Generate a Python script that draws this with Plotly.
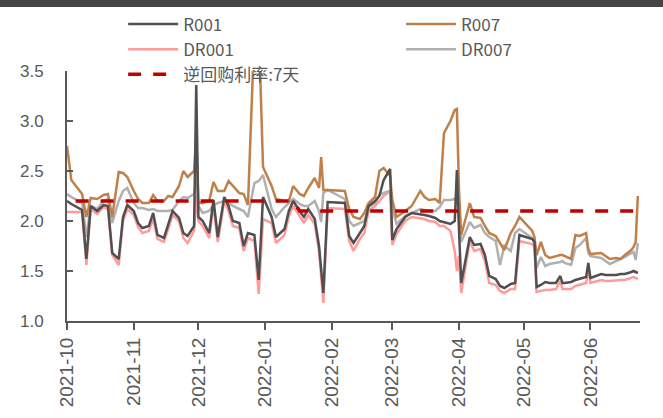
import plotly.graph_objects as go

# Trading dates shared by the four money-market rate series
dates = ["2021-10-01","2021-10-03","2021-10-08","2021-10-10","2021-10-12","2021-10-15","2021-10-18","2021-10-20","2021-10-22","2021-10-25","2021-10-27","2021-10-29",
         "2021-11-01","2021-11-03","2021-11-05","2021-11-08","2021-11-10","2021-11-12","2021-11-15","2021-11-17","2021-11-19","2021-11-22","2021-11-24","2021-11-26","2021-11-29","2021-11-30",
         "2021-12-01","2021-12-03","2021-12-06","2021-12-08","2021-12-10","2021-12-13","2021-12-15","2021-12-17","2021-12-20","2021-12-22","2021-12-24","2021-12-27","2021-12-29","2021-12-31",
         "2022-01-04","2022-01-06","2022-01-10","2022-01-12","2022-01-14","2022-01-17","2022-01-19","2022-01-21","2022-01-24","2022-01-26","2022-01-27","2022-01-28","2022-01-30",
         "2022-02-07","2022-02-09","2022-02-11","2022-02-14","2022-02-16","2022-02-18","2022-02-21","2022-02-23","2022-02-25","2022-02-28",
         "2022-03-01","2022-03-03","2022-03-07","2022-03-10","2022-03-14","2022-03-16","2022-03-18","2022-03-21","2022-03-23","2022-03-25","2022-03-28","2022-03-30","2022-03-31",
         "2022-04-01","2022-04-02","2022-04-06","2022-04-08","2022-04-11","2022-04-13","2022-04-15","2022-04-18","2022-04-20","2022-04-22","2022-04-25","2022-04-27","2022-04-29",
         "2022-05-05","2022-05-06","2022-05-07","2022-05-09","2022-05-11","2022-05-13","2022-05-16","2022-05-18","2022-05-19","2022-05-20","2022-05-23","2022-05-25","2022-05-27","2022-05-30","2022-05-31",
         "2022-06-01","2022-06-06","2022-06-08","2022-06-10","2022-06-13","2022-06-15","2022-06-17","2022-06-20","2022-06-21","2022-06-22","2022-06-23"]

r001 = [2.20, 2.17, 2.11, 1.62, 2.15, 2.10, 2.16, 2.15, 1.68, 1.62, 2.04, 2.16,
        2.10, 1.98, 1.93, 1.95, 2.08, 1.86, 1.83, 1.96, 2.10, 2.03, 1.88, 1.85, 1.95, 3.36,
        2.04, 2.00, 1.88, 2.21, 1.84, 2.24, 2.15, 2.00, 1.98, 1.75, 1.88, 1.86, 1.41, 2.24,
        2.04, 1.84, 1.92, 2.10, 2.20, 2.10, 2.04, 2.12, 2.02, 1.75, 1.50, 1.28, 2.19,
        2.18, 1.85, 1.78, 1.88, 1.95, 2.15, 2.20, 2.25, 2.41, 2.52,
        1.81, 1.92, 2.04, 2.08, 2.07, 2.06, 2.05, 2.03, 2.00, 1.99, 1.97, 2.00, 2.51,
        1.90, 1.38, 1.84, 1.76, 1.77, 1.66, 1.45, 1.42, 1.35, 1.33, 1.37, 1.38, 1.86,
        1.82, 1.79, 1.34, 1.36, 1.39, 1.38, 1.38, 1.45, 1.38, 1.38, 1.39, 1.41, 1.42, 1.44, 1.58,
        1.43, 1.47, 1.46, 1.46, 1.46, 1.47, 1.47, 1.49, 1.50, 1.49, 1.48]

r007 = [2.75, 2.41, 2.27, 2.04, 2.23, 2.22, 2.26, 2.27, 2.04, 2.49, 2.48, 2.44,
        2.30, 2.22, 2.18, 2.18, 2.26, 2.20, 2.20, 2.25, 2.24, 2.35, 2.50, 2.44, 2.50, 2.81,
        2.18, 2.18, 2.20, 2.39, 2.30, 2.30, 2.40, 2.35, 2.28, 2.27, 2.16, 3.90, 3.95, 2.54,
        2.35, 2.22, 2.20, 2.20, 2.35, 2.27, 2.25, 2.33, 2.43, 2.33, 2.64, 2.31, 2.31,
        2.30, 2.12, 2.04, 2.02, 2.08, 2.18, 2.24, 2.50, 2.53, 2.45,
        2.21, 2.04, 2.10, 2.15, 2.30, 2.24, 2.21, 2.22, 2.18, 2.88, 3.00, 3.11, 3.12,
        2.30, 1.86, 2.18, 2.04, 2.03, 1.95, 1.88, 1.85, 1.78, 1.71, 1.88, 1.95, 2.04,
        1.90, 1.84, 1.66, 1.79, 1.66, 1.63, 1.65, 1.66, 1.66, 1.65, 1.62, 1.86, 1.85, 1.88, 1.72,
        1.67, 1.68, 1.65, 1.62, 1.63, 1.62, 1.66, 1.71, 1.74, 1.79, 2.25]

dr001 = [2.09, 2.09, 2.09, 1.56, 2.12, 2.07, 2.14, 2.12, 1.66, 1.56, 2.00, 2.12,
         2.06, 1.94, 1.88, 1.90, 2.02, 1.82, 1.79, 1.92, 2.06, 2.00, 1.83, 1.78, 1.90, 2.25,
         2.00, 1.95, 1.83, 2.16, 1.79, 2.20, 2.10, 1.95, 1.93, 1.70, 1.83, 1.80, 1.27, 2.02,
         1.98, 1.78, 1.86, 2.05, 2.15, 2.05, 1.98, 2.06, 1.97, 1.70, 1.45, 1.18, 2.13,
         2.12, 1.80, 1.70, 1.82, 1.88, 2.10, 2.15, 2.20, 2.25, 2.30,
         1.76, 1.87, 2.00, 2.04, 2.03, 2.02, 2.00, 1.99, 1.95, 1.95, 1.90, 1.70, 1.50,
         1.65, 1.28, 1.80, 1.70, 1.72, 1.60, 1.38, 1.36, 1.30, 1.28, 1.32, 1.32, 1.80,
         1.77, 1.74, 1.29, 1.30, 1.31, 1.31, 1.32, 1.40, 1.32, 1.32, 1.32, 1.35, 1.36, 1.38, 1.53,
         1.38, 1.41, 1.40, 1.40, 1.41, 1.41, 1.41, 1.43, 1.44, 1.43, 1.42]

dr007 = [2.27, 2.24, 2.18, 1.84, 2.15, 2.12, 2.20, 2.22, 1.98, 2.20, 2.30, 2.33,
         2.18, 2.13, 2.13, 2.11, 2.12, 2.10, 2.10, 2.10, 2.11, 2.20, 2.24, 2.23, 2.27, 2.41,
         2.15, 2.08, 2.10, 2.16, 2.18, 2.20, 2.18, 2.15, 2.12, 2.10, 2.04, 2.38, 2.40, 2.46,
         2.12, 2.04, 2.14, 2.18, 2.22, 2.17, 2.15, 2.15, 2.20, 2.10, 1.99, 2.28, 2.31,
         2.22, 2.00, 1.95, 1.98, 2.00, 2.14, 2.18, 2.26, 2.28, 2.30,
         2.12, 1.97, 2.05, 2.08, 2.12, 2.11, 2.10, 2.10, 2.14, 2.21, 2.21, 2.22, 2.24,
         2.00, 1.79, 1.99, 1.93, 1.96, 1.88, 1.84, 1.80, 1.56, 1.75, 1.70, 1.88, 1.92,
         1.83, 1.78, 1.53, 1.64, 1.55, 1.57, 1.58, 1.59, 1.60, 1.58, 1.56, 1.73, 1.76, 1.83, 1.68,
         1.65, 1.63, 1.60, 1.57, 1.60, 1.62, 1.64, 1.68, 1.69, 1.61, 1.78]

# 7-day reverse repo policy rate
repo_dates = ["2021-10-05", "2022-01-14", "2022-01-17", "2022-06-23"]
repo_rate = [2.2, 2.2, 2.1, 2.1]

CJK_FONT = "Noto Sans CJK SC, Microsoft YaHei, sans-serif"
TICK_FONT = "Liberation Sans, Arial, sans-serif"
TXT = "#595959"

fig = go.Figure()
fig.add_trace(go.Scatter(x=dates, y=dr001, mode="lines", name="DR001",
                         line=dict(color="#ff9b9b", width=2.5), legend="legend", legendrank=2))
fig.add_trace(go.Scatter(x=dates, y=dr007, mode="lines", name="DR007",
                         line=dict(color="#b0b0b0", width=2.5), legend="legend2", legendrank=2))
fig.add_trace(go.Scatter(x=dates, y=r007, mode="lines", name="R007",
                         line=dict(color="#c0804a", width=2.5), legend="legend2", legendrank=1))
fig.add_trace(go.Scatter(x=dates, y=r001, mode="lines", name="R001",
                         line=dict(color="#505050", width=2.5), legend="legend", legendrank=1))
fig.add_trace(go.Scatter(x=repo_dates, y=repo_rate, mode="lines", name="逆回购利率:7天",
                         line=dict(color="#c00000", width=3.5, dash="13px,12px"),
                         legend="legend", legendrank=3))

legend_common = dict(orientation="v", bgcolor="rgba(0,0,0,0)", itemwidth=50,
                     font=dict(family=CJK_FONT, size=17, color=TXT), tracegroupgap=0,
                     xanchor="left", yanchor="top", traceorder="normal")

fig.update_layout(
    width=663, height=418,
    margin=dict(l=67, r=23, t=71, b=97, autoexpand=False),
    paper_bgcolor="white", plot_bgcolor="white",
    font=dict(family=CJK_FONT, size=16, color=TXT),
    legend=dict(x=0.098, y=1.258, **legend_common),
    legend2=dict(x=0.583, y=1.258, **legend_common),
    xaxis=dict(type="date", range=["2021-10-01", "2022-06-24"],
               dtick="M1", tick0="2021-10-01", tickformat="%Y-%m", tickangle=-90,
               showgrid=False, zeroline=False,
               showline=True, linecolor="#595959", linewidth=2,
               ticks="outside", ticklen=7, tickwidth=2, tickcolor="#595959",
               tickfont=dict(family=TICK_FONT, size=19, color=TXT)),
    yaxis=dict(range=[1.0, 3.5], dtick=0.5, tickformat=".1f",
               showgrid=False, zeroline=False,
               showline=True, linecolor="#595959", linewidth=2,
               ticks="inside", ticklen=6, tickwidth=2, tickcolor="#595959",
               ticklabelstandoff=18,
               tickfont=dict(family=TICK_FONT, size=17, color=TXT)),
    shapes=[dict(type="rect", xref="paper", yref="paper",
                 x0=-0.2, x1=1.2, y0=1.256, y1=1.3,
                 fillcolor="#454545", line=dict(width=0), layer="above")],
)

fig.write_html("out.html")
